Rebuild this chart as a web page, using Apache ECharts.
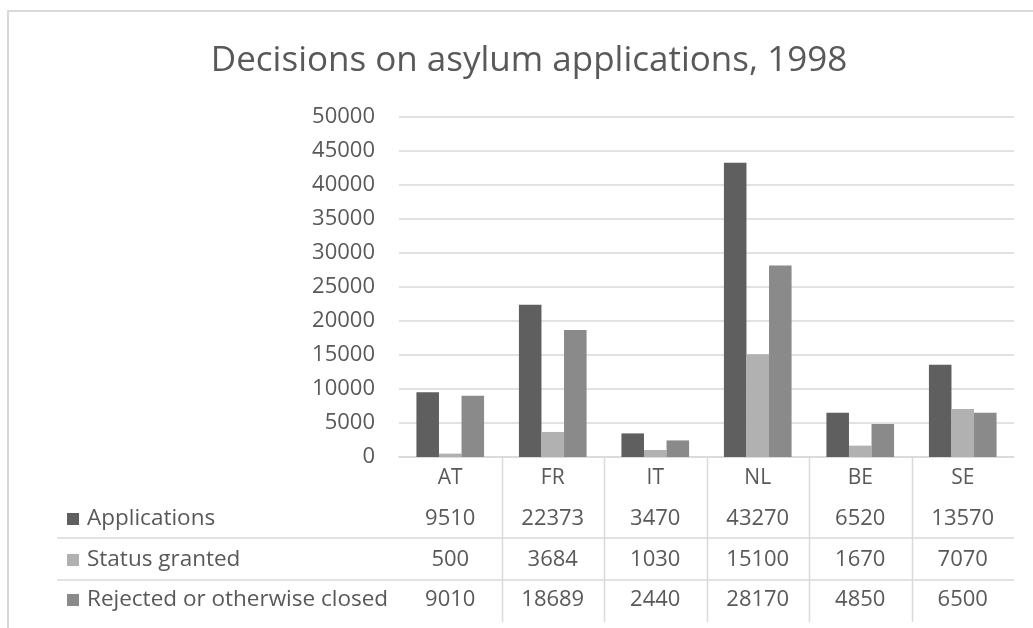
<!DOCTYPE html>
<html>
<head>
<meta charset="utf-8">
<script src="https://cdn.jsdelivr.net/npm/echarts@6/dist/echarts.min.js"></script>
<style>
  html, body { margin: 0; padding: 0; background: #ffffff; }
  #chart { width: 1033px; height: 628px; }
</style>
</head>
<body>
<div id="chart"></div>
<script>
// Decisions on asylum applications by country, 1998
const categories = ['AT', 'FR', 'IT', 'NL', 'BE', 'SE'];
const applications = [9510, 22373, 3470, 43270, 6520, 13570];
const statusGranted = [500, 3684, 1030, 15100, 1670, 7070];
const rejectedClosed = [9010, 18689, 2440, 28170, 4850, 6500];
const seriesNames = ['Applications', 'Status granted', 'Rejected or otherwise closed'];
const titleText = 'Decisions on asylum applications, 1998';

const seriesValues = [applications, statusGranted, rejectedClosed];
const seriesColors = ['#5f5f5f', '#b1b1b1', '#8a8a8a'];
const textColor = '#595959';
const lineColor = '#d9d9d9';
const FONT = '"Open Sans", "Noto Sans", sans-serif';

const chart = echarts.init(document.getElementById('chart'), null, { renderer: 'canvas' });

const grid = { left: 399, right: 19, top: 117, bottom: 171 };

chart.setOption({
  animation: false,
  backgroundColor: '#ffffff',
  textStyle: { fontFamily: FONT },
  grid: grid,
  xAxis: {
    type: 'category',
    data: categories,
    axisLine: { show: true, lineStyle: { color: lineColor, width: 1.5 } },
    axisTick: { show: false },
    axisLabel: {
      color: textColor, fontSize: 21, fontFamily: FONT,
      margin: 8, lineHeight: 26
    },
    splitLine: { show: false }
  },
  yAxis: {
    type: 'value',
    min: 0, max: 50000, interval: 5000,
    axisLine: { show: false },
    axisTick: { show: false },
    axisLabel: {
      color: textColor, fontSize: 22, fontFamily: FONT, margin: 24,
      formatter: v => String(v)
    },
    splitLine: { show: true, lineStyle: { color: lineColor, width: 1.5 } }
  },
  series: seriesNames.map((name, k) => ({
    name: name,
    type: 'bar',
    data: seriesValues[k],
    barGap: '0%',
    barCategoryGap: '34%',
    itemStyle: { color: seriesColors[k] },
    emphasis: { disabled: true }
  }))
});

// Data table underneath the plot, laid out on the category axis positions
function buildTable() {
  const xs = categories.map((c, i) => chart.convertToPixel({ xAxisIndex: 0 }, i));
  const step = xs.length > 1 ? xs[1] - xs[0] : 100;
  const half = step / 2;
  const axisY = chart.convertToPixel({ yAxisIndex: 0 }, 0);
  const rightX = xs[xs.length - 1] + half;

  const rowCenters = [519, 560, 600];
  const rowLines = [538, 580];
  const tableBottom = 622;
  const tableLeft = 57;

  const elements = [];

  // chart area border
  elements.push({
    type: 'rect', silent: true,
    shape: { x: 8, y: 11, width: 1100, height: 700 },
    style: { fill: 'none', stroke: lineColor, lineWidth: 2 }
  });

  // title
  elements.push({
    type: 'text', silent: true,
    style: {
      text: titleText, x: 529, y: 61,
      fill: textColor, fontSize: 35, fontFamily: FONT,
      align: 'center', verticalAlign: 'middle'
    }
  });

  // column separators
  for (let i = 1; i < xs.length; i++) {
    const x = Math.round(xs[i] - half) + 0.5;
    elements.push({
      type: 'line', silent: true,
      shape: { x1: x, y1: axisY, x2: x, y2: tableBottom },
      style: { stroke: lineColor, lineWidth: 1.5 }
    });
  }

  // row separators
  rowLines.forEach(y => {
    elements.push({
      type: 'line', silent: true,
      shape: { x1: tableLeft, y1: y, x2: rightX, y2: y },
      style: { stroke: lineColor, lineWidth: 1.5 }
    });
  });

  // row headers with legend keys, and the values
  seriesNames.forEach((name, k) => {
    const cy = rowCenters[k];
    elements.push({
      type: 'rect', silent: true,
      shape: { x: 67, y: cy - 6, width: 12, height: 12 },
      style: { fill: seriesColors[k] }
    });
    elements.push({
      type: 'text', silent: true,
      style: {
        text: name, x: 87, y: cy,
        fill: textColor, fontSize: 22.5, fontFamily: FONT,
        align: 'left', verticalAlign: 'middle'
      }
    });
    seriesValues[k].forEach((v, i) => {
      elements.push({
        type: 'text', silent: true,
        style: {
          text: String(v), x: xs[i], y: cy,
          fill: textColor, fontSize: 22, fontFamily: FONT,
          align: 'center', verticalAlign: 'middle'
        }
      });
    });
  });

  chart.setOption({ graphic: { elements: elements } });
}

buildTable();
</script>
</body>
</html>
